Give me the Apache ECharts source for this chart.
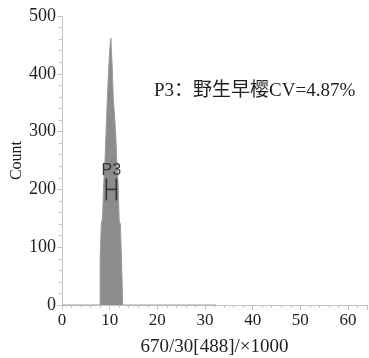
<!DOCTYPE html>
<html>
<head>
<meta charset="utf-8">
<script src="https://cdn.jsdelivr.net/npm/echarts@6/dist/echarts.min.js"></script>
<style>
  html, body { margin: 0; padding: 0; background: #fff; }
  #chart { width: 369px; height: 358px; }
</style>
</head>
<body>
<div id="chart"></div>
<script>
// Histogram bins: left edge of each bin (x1000 units) and its event count
const binEdges = [0, 8.0, 8.25, 8.5, 8.75, 9.0, 9.25, 9.5, 9.75, 10.0, 10.25, 10.5, 10.75, 11.0, 11.25, 11.5, 11.75, 12.0, 12.25, 12.5, 12.75, 32.4];
const binCounts = [0, 80, 140, 150, 210, 245, 300, 355, 400, 440, 462, 420, 360, 330, 300, 250, 215, 145, 140, 75, 0, 0];

// Gate P3 range and the height where its marker is drawn
const gateName = 'P3';
const gateRange = [9.3, 11.4];
const gateLevel = 200;

const annotation = 'P3：野生早樱CV=4.87%';
const xTicks = [0, 10, 20, 30, 40, 50, 60];
const yTicks = [0, 100, 200, 300, 400, 500];

const histData = binEdges.map((x, i) => [x, binCounts[i]]);

const serif = '"Liberation Serif", "Noto Sans CJK SC", serif';
const axisGrey = '#c4c4c4';
const textColor = '#1e1e1e';

const chart = echarts.init(document.getElementById('chart'));
chart.setOption({
  animation: false,
  backgroundColor: '#fff',
  grid: { left: 62, right: 2, top: 16, bottom: 53, containLabel: false, outerBoundsMode: 'none' },
  title: {
    text: annotation,
    left: 149, top: 77,
    textStyle: { fontFamily: serif, fontSize: 19, fontWeight: 'normal', color: textColor }
  },
  xAxis: {
    type: 'value',
    min: 0, max: 64, interval: 10,
    name: '670/30[488]/×1000',
    nameLocation: 'middle', nameGap: 33,
    nameTextStyle: { fontFamily: serif, fontSize: 19, color: textColor },
    axisLine: { lineStyle: { color: axisGrey } },
    axisTick: { show: true, length: 5, lineStyle: { color: axisGrey } },
    minorTick: { show: true, splitNumber: 5, length: 3, lineStyle: { color: axisGrey } },
    axisLabel: {
      fontFamily: serif, fontSize: 17, color: textColor, margin: 7,
      formatter: v => (xTicks.includes(v) ? String(v) : '')
    },
    splitLine: { show: false }
  },
  yAxis: {
    type: 'value',
    min: 0, max: 500, interval: 100,
    name: 'Count',
    nameLocation: 'middle', nameGap: 37, nameMoveOverlap: false,
    nameTextStyle: { fontFamily: serif, fontSize: 16, color: textColor },
    axisLine: { show: true, lineStyle: { color: axisGrey } },
    axisTick: { show: true, length: 5, lineStyle: { color: axisGrey } },
    minorTick: { show: true, splitNumber: 5, length: 3, lineStyle: { color: axisGrey } },
    axisLabel: {
      fontFamily: serif, fontSize: 18, color: textColor, margin: 6,
      formatter: v => (yTicks.includes(v) ? String(v) : '')
    },
    splitLine: { show: false }
  },
  series: [
    {
      type: 'line',
      step: 'end',
      data: histData,
      symbol: 'none',
      lineStyle: { color: '#9a9a9a', width: 1 },
      areaStyle: { color: '#8c8c8c', opacity: 1 },
      z: 2
    },
    {
      type: 'custom',
      data: [[gateRange[0], gateRange[1], gateLevel]],
      z: 5,
      renderItem: function (params, api) {
        const a = api.coord([api.value(0), api.value(2)]);
        const b = api.coord([api.value(1), api.value(2)]);
        const h = 11;
        const style = { stroke: '#333', lineWidth: 1.6 };
        return {
          type: 'group',
          children: [
            { type: 'line', shape: { x1: a[0], y1: a[1] - h, x2: a[0], y2: a[1] + h }, style },
            { type: 'line', shape: { x1: b[0], y1: b[1] - h, x2: b[0], y2: b[1] + h }, style },
            { type: 'line', shape: { x1: a[0], y1: a[1], x2: b[0], y2: b[1] }, style },
            {
              type: 'text',
              style: {
                text: gateName, x: (a[0] + b[0]) / 2, y: a[1] - h,
                align: 'center', verticalAlign: 'bottom',
                font: '16px "Liberation Sans", sans-serif', fill: '#333'
              }
            }
          ]
        };
      }
    }
  ]
});
</script>
</body>
</html>
